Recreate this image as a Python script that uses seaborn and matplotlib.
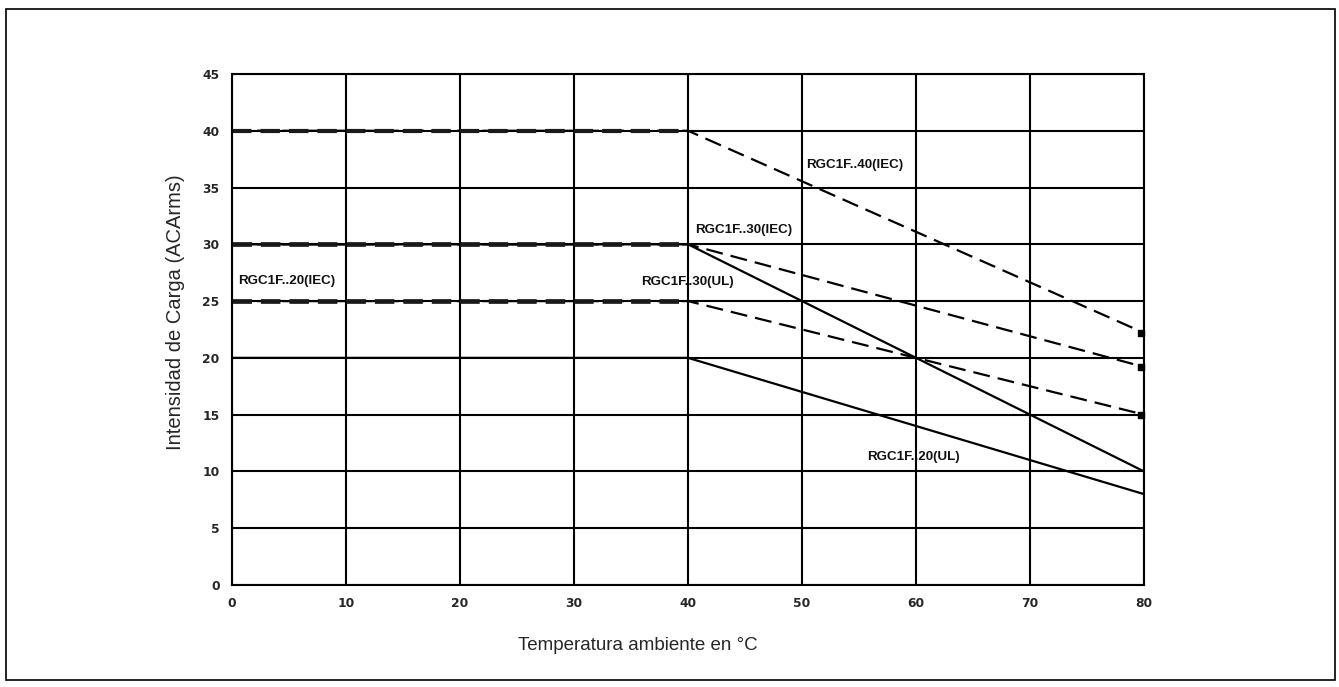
import numpy as np
import matplotlib.pyplot as plt
import pandas as pd
import seaborn as sns
from matplotlib.patches import Rectangle

# Derating curves: ambient temperature (°C) vs load current (ACArms)
temp = [0, 40, 80]
rgc40_iec = [40, 40, 22.2]
rgc30_iec = [30, 30, 19.2]
rgc30_ul = [30, 30, 10]
rgc20_iec = [25, 25, 15]
rgc20_ul = [20, 20, 8]

x_ticks = [0, 10, 20, 30, 40, 50, 60, 70, 80]
y_ticks = [0, 5, 10, 15, 20, 25, 30, 35, 40, 45]

sns.set_style("white")
plt.rcParams['font.family'] = ['Liberation Sans', 'DejaVu Sans']
plt.rcParams['lines.scale_dashes'] = False  # dash lengths in points

fig = plt.figure(figsize=(13.39, 6.87), dpi=100)
ax = fig.add_axes([0.1733, 0.1485, 0.6811, 0.7438])

# border around the whole figure
fig.patches.append(Rectangle((0.0045, 0.010), 0.9925, 0.977, transform=fig.transFigure,
                             fill=False, edgecolor='black', linewidth=1.2))

ax.set_xlim(0, 80)
ax.set_ylim(0, 45)
ax.set_xticks(x_ticks)
ax.set_yticks(y_ticks)
ax.grid(True, color='black', linewidth=1.5)
ax.set_axisbelow(True)
for s in ax.spines.values():
    s.set_color('black')
    s.set_linewidth(1.5)

ax.tick_params(axis='both', direction='out', length=4, width=1.2, color='black',
               labelsize=8.8, pad=5)
for lbl in ax.get_xticklabels() + ax.get_yticklabels():
    lbl.set_fontweight('bold')
    lbl.set_family(['DejaVu Sans'])

# sloped parts (dashed = IEC, solid = UL)
sns.lineplot(x=temp, y=rgc40_iec, ax=ax, color='black', linewidth=1.6, linestyle='--')
sns.lineplot(x=temp, y=rgc30_iec, ax=ax, color='black', linewidth=1.6, linestyle='--')
sns.lineplot(x=temp, y=rgc20_iec, ax=ax, color='black', linewidth=1.6, linestyle='--')
sns.lineplot(x=temp, y=rgc30_ul, ax=ax, color='black', linewidth=1.6)
sns.lineplot(x=temp, y=rgc20_ul, ax=ax, color='black', linewidth=1.6)
for ln in ax.lines:
    if ln.get_linestyle() == '--':
        ln.set_dashes((12.2, 5.8))

# thicker flat dashed segments
for yv, lw in [(rgc40_iec[0], 3.0), (rgc30_iec[0], 3.4), (rgc20_iec[0], 3.4)]:
    sns.lineplot(x=temp[:2], y=[yv, yv], ax=ax, color='#1a1a1a', linewidth=lw)
    ax.lines[-1].set_dashes((14.0, 6.5))

# end markers on the dashed curves
ends = pd.DataFrame({'x': [temp[-1]] * 3, 'y': [rgc40_iec[-1], rgc30_iec[-1], rgc20_iec[-1]]})
ax.scatter(ends['x'] - 0.3, ends['y'], marker='s', s=22, color='black', zorder=5, clip_on=False)

lab = dict(fontsize=9.6, fontweight='bold', color='#111111')
ax.text(50.4, 37.0, 'RGC1F..40(IEC)', va='center', **lab)
ax.text(40.6, 31.3, 'RGC1F..30(IEC)', va='center', **lab)
ax.text(35.9, 26.7, 'RGC1F..30(UL)', va='center', **lab)
ax.text(0.5, 26.8, 'RGC1F..20(IEC)', va='center', **lab)
ax.text(55.7, 11.3, 'RGC1F..20(UL)', va='center', **lab)

ax.set_xlabel('Temperatura ambiente en °C', fontsize=13.5, va='center')
ax.set_ylabel('Intensidad de Carga (ACArms)', fontsize=14.5, va='center')
ax.xaxis.set_label_coords(0.445, -0.119)
ax.yaxis.set_label_coords(-0.0625, 0.534)

fig.savefig('out.png', dpi=100)
